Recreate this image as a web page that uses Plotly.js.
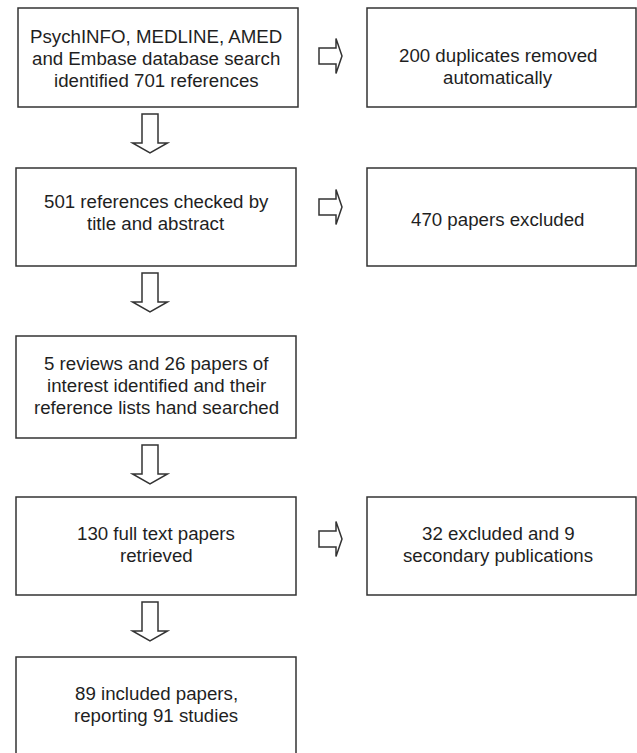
<!DOCTYPE html>
<html>
<head>
<meta charset="utf-8">
<script src="https://cdn.plot.ly/plotly-3.0.1.min.js"></script>
<style>
  html, body { margin: 0; padding: 0; background: #ffffff; }
  #chart { width: 637px; height: 753px; }
</style>
</head>
<body>
<div id="chart"></div>
<script>
// ---- Flowchart content (data) ----
const stepLines = [
  ["PsychINFO, MEDLINE, AMED", "and Embase database search", "identified 701 references"],
  ["501 references checked by", "title and abstract"],
  ["5 reviews and 26 papers of", "interest identified and their", "reference lists hand searched"],
  ["130 full text papers", "retrieved"],
  ["89 included papers,", "reporting 91 studies"]
];
const exclusionLines = [
  ["200 duplicates removed", "automatically"],
  ["470 papers excluded"],
  null,
  ["32 excluded and 9", "secondary publications"],
  null
];

// ---- Layout geometry (pixel space) ----
const W = 637, H = 753;
const rowY = [[8, 107], [168, 266], [336, 438], [497, 595], [657, 757]];
const leftX = [[18, 298], [16, 296], [16, 296], [16, 296], [16, 296]];
const rightX = [367, 636];
const leftTextCY = [58, 212, 385, 544, 704];
const rightTextCY = [66, 219, null, 544, null];
const sideArrowCY = [56, 207, null, 539, null];
const downCX = 150;
const lineGap = 22;
const FONT = {family: "Liberation Sans, Arial, Helvetica, sans-serif", size: 18.7, color: "#1f1f1f"};
const LINE = {color: "#333333", width: 1.5};

const shapes = [];
const annotations = [];

function addBox(x0, x1, y0, y1, lines, tcx, tcy) {
  shapes.push({type: "rect", xref: "x", yref: "y", x0: x0, x1: x1, y0: y0, y1: y1,
               line: LINE, fillcolor: "rgba(0,0,0,0)"});
  const n = lines.length;
  lines.forEach((t, i) => {
    annotations.push({x: tcx, y: tcy + (i - (n - 1) / 2) * lineGap, xref: "x", yref: "y",
      text: t, showarrow: false, font: FONT, xanchor: "center", yanchor: "middle"});
  });
}

function downArrow(cx, y0, yt) {
  const yb = yt - 10, s = 8, h = 17.5;
  return {type: "path", xref: "x", yref: "y", line: LINE, fillcolor: "rgba(0,0,0,0)",
    path: `M ${cx - s},${y0} L ${cx + s},${y0} L ${cx + s},${yb} L ${cx + h},${yb} L ${cx},${yt} L ${cx - h},${yb} L ${cx - s},${yb} Z`};
}
function rightArrow(x0, cy) {
  const xb = x0 + 17, xt = x0 + 23, s = 8, h = 17.5;
  return {type: "path", xref: "x", yref: "y", line: LINE, fillcolor: "rgba(0,0,0,0)",
    path: `M ${x0},${cy - s} L ${xb},${cy - s} L ${xb},${cy - h} L ${xt},${cy} L ${xb},${cy + h} L ${xb},${cy + s} L ${x0},${cy + s} Z`};
}

stepLines.forEach((lines, i) => {
  const [x0, x1] = leftX[i];
  const [y0, y1] = rowY[i];
  addBox(x0, x1, y0, y1, lines, 156, leftTextCY[i]);
  if (exclusionLines[i]) {
    addBox(rightX[0], rightX[1], y0, y1, exclusionLines[i], 498, rightTextCY[i]);
    shapes.push(rightArrow(319, sideArrowCY[i]));
  }
  if (i < stepLines.length - 1) {
    shapes.push(downArrow(downCX, y1 + 7, y1 + 46));
  }
});

const layout = {
  width: W, height: H,
  margin: {l: 0, r: 0, t: 0, b: 0},
  paper_bgcolor: "#ffffff", plot_bgcolor: "#ffffff",
  xaxis: {range: [0, W], visible: false, fixedrange: true},
  yaxis: {range: [H, 0], visible: false, fixedrange: true},
  showlegend: false,
  shapes: shapes,
  annotations: annotations
};

Plotly.newPlot("chart", [{x: [], y: [], type: "scatter", mode: "markers", hoverinfo: "skip"}], layout,
  {staticPlot: true, displayModeBar: false});
</script>
</body>
</html>
